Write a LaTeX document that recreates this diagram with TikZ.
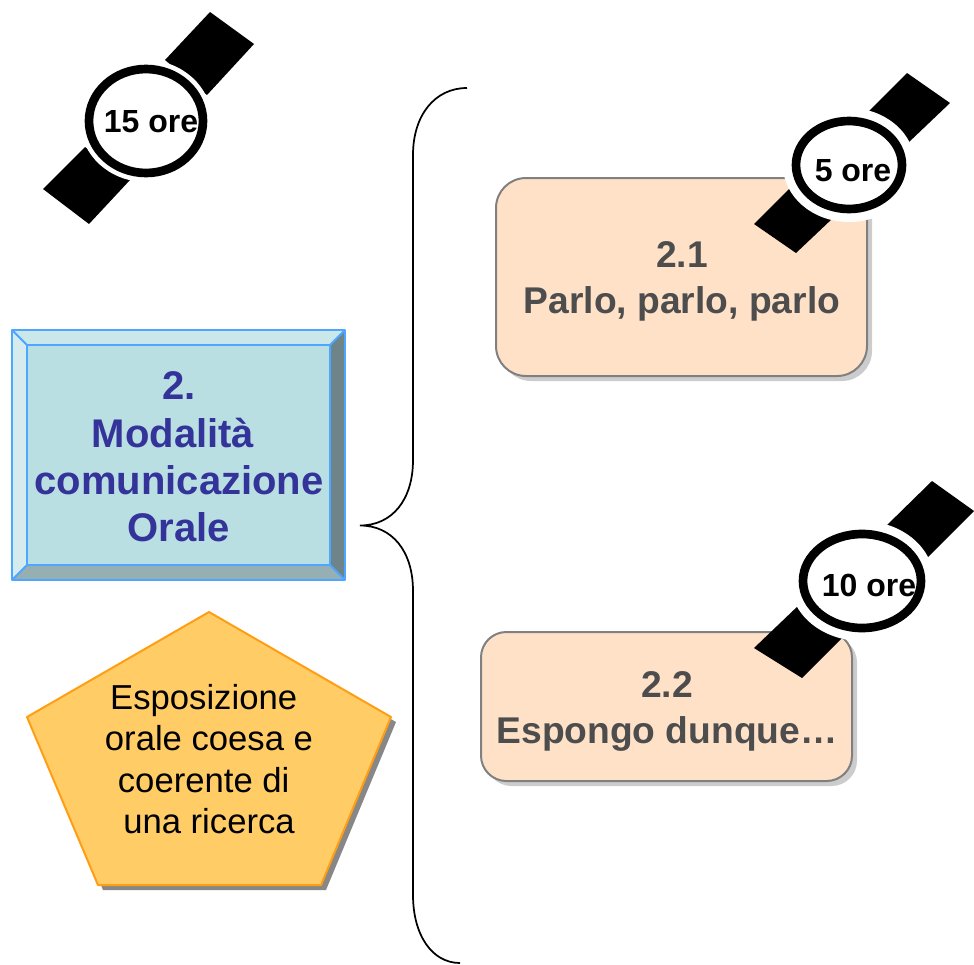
\documentclass[tikz,border=0pt]{standalone}
\usepackage{fontspec}
\setmainfont{Liberation Sans}
\definecolor{boxline}{HTML}{4DA6FF}
\definecolor{boxmain}{HTML}{B9DFE3}
\definecolor{boxtop}{HTML}{CAE7EA}
\definecolor{boxleft}{HTML}{D5EBEE}
\definecolor{boxright}{HTML}{6F8488}
\definecolor{boxbottom}{HTML}{95AFB3}
\definecolor{titleblue}{HTML}{333399}
\definecolor{peach}{HTML}{FFE1C8}
\definecolor{greytext}{HTML}{4D4D4D}
\definecolor{pentfill}{HTML}{FFCC66}
\definecolor{pentline}{HTML}{FF9E14}
\tikzset{
  x=0.75pt,y=-0.75pt,
  strap/.style={fill=black,draw=none},
  bevel/.style={draw=boxline,line width=1.5pt,line join=round},
  peachbox/.style={draw=black!50,line width=1.5pt,fill=peach,rounded corners=#1},
  peachshadow/.style={fill=black!20,draw=none,rounded corners=#1},
  boldgrey/.style={font=\bfseries\fontsize{27.9}{34}\selectfont,text=greytext,align=center},
  bluetitle/.style={font=\bfseries\fontsize{30}{35.6}\selectfont,text=titleblue,align=center},
  penttext/.style={font=\fontsize{26}{31}\selectfont,align=center},
  watchtext/.style={font=\bfseries\fontsize{24}{27}\selectfont},
  ring/.style={draw=black,line width=6.5pt,fill=white},
  ringhalo/.style={draw=white,line width=4.5pt,fill=white}
}
\begin{document}
\begin{tikzpicture}
\useasboundingbox (0,0) rectangle (974,964);
% box 2.1
\fill[peachshadow=22.5pt] (501,183) rectangle (872,381);
\draw[peachbox=22.5pt] (496,178) rectangle (867,376);
\node[boldgrey] (t21) at (682,281.5) {2.1\\Parlo, parlo, parlo};
% box 2.2
\fill[peachshadow=19pt] (486,637) rectangle (857,786);
\draw[peachbox=19pt] (481,632) rectangle (852,781);
\node[boldgrey] (t22) at (667,711.5) {2.2\\Espongo dunque…};
% bevel box
\fill[boxmain] (12,330) rectangle (345,580);
\fill[boxtop] (12,330) -- (345,330) -- (330,345) -- (27,345) -- cycle;
\fill[boxleft] (12,330) -- (27,345) -- (27,565) -- (12,580) -- cycle;
\fill[boxright] (345,330) -- (345,580) -- (330,565) -- (330,345) -- cycle;
\fill[boxbottom] (12,580) -- (27,565) -- (330,565) -- (345,580) -- cycle;
\draw[bevel] (12,330) rectangle (345,580);
\draw[bevel] (27,345) rectangle (330,565);
\draw[bevel] (12,330) -- (27,345) (345,330) -- (330,345) (12,580) -- (27,565) (345,580) -- (330,565);
\node[bluetitle] (title) at (179,457) {2.\\\mbox{Modalità\hspace{9pt}}\\comunicazione\\Orale};
% pentagon
\fill[black!47] (214,617) -- (396,722) -- (326,890) -- (103,890) -- (32,722) -- cycle;
\draw[pentline,fill=pentfill,line width=1.5pt,line join=round] (209,612) -- (391,717) -- (321,885) -- (98,885) -- (27,717) -- cycle;
\node[penttext] (pent) at (209,759) {\hspace*{-8pt}Esposizione\\orale coesa e\\\hspace*{-8pt}coerente di\\una ricerca};
% brace
\coordinate (bt) at (467,88);
\coordinate (bm) at (360,525.5);
\coordinate (bb) at (460,963);
\draw[black,line width=1.3pt] (bt) .. controls (435,88) and (413,115) .. (413,155) -- (413,460) .. controls (413,500) and (392,525.5) .. (bm) .. controls (392,525.5) and (413,551) .. (413,591) -- (413,895) .. controls (413,935) and (432,963) .. (bb);
% watch 15
\fill[strap] (210,12) -- (254,44) -- (207,95) -- (165,60) -- cycle;
\fill[strap] (43,189) -- (89,224) -- (130,180) -- (85,147) -- cycle;
\fill[ringhalo] (146,121) ellipse [x radius=63,y radius=58];
\draw[ring] (146,121) ellipse [x radius=57,y radius=52];
\node[watchtext] (w15) at (151,122) {15 ore};
% watch 5
\fill[strap] (907,73) -- (950,103) -- (908,143) -- (867,113) -- cycle;
\fill[strap] (754,224) -- (796,253) -- (833,218) -- (790,188) -- cycle;
\fill[ringhalo] (849,165) ellipse [x radius=63,y radius=54];
\draw[ring] (849,165) ellipse [x radius=53,y radius=44];
\node[watchtext] (w5) at (853,171) {5 ore};
% watch 10
\fill[strap] (932,481) -- (974,511) -- (925,560) -- (885,527) -- cycle;
\fill[strap] (754,648) -- (802,678) -- (845,635) -- (800,604) -- cycle;
\fill[ringhalo] (862,581) ellipse [x radius=69,y radius=57];
\draw[ring] (862,581) ellipse [x radius=59,y radius=47];
\node[watchtext] (w10) at (869,585) {10 ore};
\end{tikzpicture}
\end{document}
